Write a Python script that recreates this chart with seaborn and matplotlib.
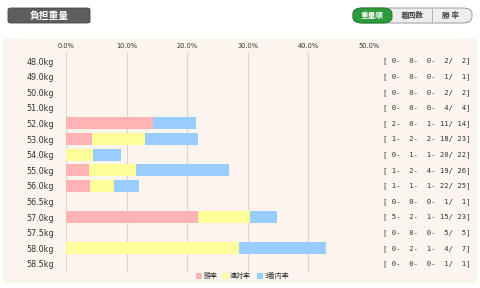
import matplotlib
matplotlib.use("Agg")
import matplotlib.pyplot as plt
import seaborn as sns
import pandas as pd
from matplotlib.patches import FancyBboxPatch, Rectangle

weights = ["48.0kg", "49.0kg", "50.0kg", "51.0kg", "52.0kg", "53.0kg", "54.0kg",
           "55.0kg", "56.0kg", "56.5kg", "57.0kg", "57.5kg", "58.0kg", "58.5kg"]
win_rate = [0, 0, 0, 0, 14.3, 4.3, 0, 3.8, 4.0, 0, 21.7, 0, 0, 0]
rentai_rate = [0, 0, 0, 0, 14.3, 13.0, 4.5, 11.5, 8.0, 0, 30.4, 0, 28.6, 0]
top3_rate = [0, 0, 0, 0, 21.4, 21.7, 9.1, 26.9, 12.0, 0, 34.8, 0, 42.9, 0]
firsts = [0, 0, 0, 0, 2, 1, 0, 1, 1, 0, 5, 0, 0, 0]
seconds = [0, 0, 0, 0, 0, 2, 1, 2, 1, 0, 2, 0, 2, 0]
thirds = [0, 0, 0, 0, 1, 2, 1, 4, 1, 0, 1, 0, 1, 0]
others = [2, 1, 2, 4, 11, 18, 20, 19, 22, 1, 15, 5, 4, 1]
totals = [2, 1, 2, 4, 14, 23, 22, 26, 25, 1, 23, 5, 7, 1]
xticks = [0, 10, 20, 30, 40, 50]
legend_labels = ["勝率", "連対率", "3着内率"]

C_WIN = "#ffb3b5"
C_REN = "#ffff99"
C_TOP = "#99ccff"

W, H = 480, 288
fig = plt.figure(figsize=(4.8, 2.88), dpi=100, facecolor="white")

def fx(px):
    return px / W

def fy(py):
    return 1 - py / H

# panel background
fig.patches.append(Rectangle((fx(3), fy(283)), fx(474), 245 / H,
                             transform=fig.transFigure, facecolor="#fcf5ee",
                             edgecolor="none", zorder=-5))

# header box
fig.patches.append(FancyBboxPatch((fx(8), fy(23)), fx(82), 15 / H,
                                  boxstyle="round,pad=0,rounding_size=0.006",
                                  transform=fig.transFigure, facecolor="#5e5e5e",
                                  edgecolor="#444444", lw=0.6, zorder=1))
fig.text(fx(49), fy(15.5), "負担重量", color="white", fontsize=7, fontweight="bold",
         ha="center", va="center", family=["Noto Sans CJK JP", "DejaVu Sans"])

# buttons
fig.patches.append(FancyBboxPatch((fx(353), fy(23)), fx(119), 15 / H,
                                  boxstyle="round,pad=0,rounding_size=0.02",
                                  transform=fig.transFigure, facecolor="#eeeeee",
                                  edgecolor="#9a9a9a", lw=0.7, zorder=1))
fig.patches.append(FancyBboxPatch((fx(353), fy(23)), fx(39), 15 / H,
                                  boxstyle="round,pad=0,rounding_size=0.02",
                                  transform=fig.transFigure, facecolor="#2d9a3c",
                                  edgecolor="#1f7a2c", lw=0.7, zorder=2))
fig.add_artist(plt.Line2D([fx(432), fx(432)], [fy(22), fy(9)], color="#aaaaaa", lw=0.6,
                          transform=fig.transFigure))
for xc, lab, col in [(372.5, "重量順", "white"), (412, "着回数", "#444444"), (451, "勝 率", "#444444")]:
    fig.text(fx(xc), fy(15.5), lab, color=col, fontsize=5.5, fontweight="bold",
             ha="center", va="center", family=["Noto Sans CJK JP", "DejaVu Sans"], zorder=3)

# chart axes
ROW0, STEP = 61.0, 15.6
top_px = ROW0 - STEP / 2
ax = fig.add_axes([fx(66), fy(top_px + STEP * len(weights)), fx(303), STEP * len(weights) / H], zorder=2)
ax.set_facecolor("none")
ax.patch.set_alpha(0)
df = pd.DataFrame({"weight": weights, "win": win_rate, "ren": rentai_rate, "top": top3_rate})
for col, c in [("top", C_TOP), ("ren", C_REN), ("win", C_WIN)]:
    sns.barplot(data=df, x=col, y="weight", order=weights, color=c, width=0.77,
                orient="h", ax=ax, saturation=1, edgecolor="none", zorder=2)
ax.set_xlim(0, 50)
ax.set_ylim(len(weights) - 0.5, -0.5)
for v in xticks:
    ax.axvline(v, color="#d9d5cd", lw=0.8, zorder=1)
ax.set_xticks(xticks)
ax.set_xticklabels([f"{v:.1f}%" for v in xticks])
ax.xaxis.set_ticks_position("top")
ax.tick_params(axis="x", top=False, bottom=False, labeltop=True, labelbottom=False,
               length=0, pad=3, labelsize=4.8, labelcolor="#333333")
ax.tick_params(axis="y", length=0, pad=8.5, labelsize=5.8, labelcolor="#333333")
ax.set_xlabel("")
ax.set_ylabel("")
for s in ax.spines.values():
    s.set_visible(False)
ax.grid(False)

# record text
for i in range(len(weights)):
    rec = f"[{firsts[i]:>2}-{seconds[i]:>3}-{thirds[i]:>3}-{others[i]:>3}/{totals[i]:>3}]"
    fig.text(fx(383), fy(ROW0 + STEP * i), rec, fontsize=5.2, family="DejaVu Sans Mono",
             ha="left", va="center", color="#333333")

# legend
for xs, lab, c in [(196, legend_labels[0], C_WIN), (222, legend_labels[1], C_REN), (257, legend_labels[2], C_TOP)]:
    fig.patches.append(Rectangle((fx(xs), fy(279)), fx(6), 6 / H, transform=fig.transFigure,
                                 facecolor=c, edgecolor="none"))
    fig.text(fx(xs + 8), fy(276), lab, fontsize=5, ha="left", va="center", color="#333333",
             family=["Noto Sans CJK JP", "DejaVu Sans"])

fig.savefig("out.png", dpi=100, facecolor="white")
